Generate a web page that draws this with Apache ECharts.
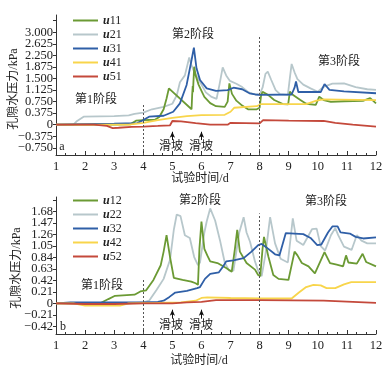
<!DOCTYPE html>
<html><head><meta charset="utf-8">
<script src="https://cdn.jsdelivr.net/npm/echarts@6/dist/echarts.min.js"></script>
<style>html,body{margin:0;padding:0;background:#fff}#c{width:392px;height:371px}</style>
</head><body><div id="c"></div>
<script>
// ---- data (day, kPa) ----
const u11 = [[1,0],[2,0],[3,0],[3.55,0.01],[3.75,0.13],[4,0.15],[4.4,0.16],[4.55,0.25],[4.7,0.5],[4.8,0.85],[4.88,1.18],[5.66,0.5],[5.68,0.95],[5.7,1.25],[5.71,1.05],[5.72,1.3],[5.75,1.88],[5.8,1.6],[5.9,1.3],[6.0,1.1],[6.1,0.9],[6.3,0.7],[6.5,0.6],[6.8,0.58],[6.9,0.75],[6.96,1.34],[7.05,1.0],[7.2,0.78],[7.4,0.62],[7.6,0.5],[7.9,0.5],[8.0,0.55],[8.05,0.95],[8.1,1.07],[8.3,0.96],[8.5,0.8],[8.8,0.67],[8.98,0.66],[9.04,1.07],[9.15,0.96],[9.4,0.8],[9.6,0.68],[9.93,0.64],[10.05,0.91],[10.2,0.8],[10.45,0.74],[10.9,0.76],[11.55,0.77],[11.8,0.86],[12,0.69]];
const u21 = [[1,0],[1.6,0],[1.7,0.1],[1.95,0.26],[2.5,0.27],[3.0,0.28],[3.5,0.3],[3.7,0.35],[4.0,0.39],[4.3,0.5],[4.7,0.58],[5.0,0.68],[5.15,0.95],[5.26,1.38],[5.43,1.6],[5.58,2.18],[5.65,1.95],[5.72,1.78],[5.85,1.55],[6.0,1.3],[6.15,1.05],[6.35,0.9],[6.52,0.84],[6.62,1.3],[6.73,1.86],[6.85,1.6],[6.98,1.42],[7.2,1.33],[7.4,1.22],[7.6,1.06],[7.8,0.99],[8.0,0.98],[8.1,1.2],[8.2,1.65],[8.28,1.72],[8.4,1.45],[8.55,1.12],[8.7,0.99],[8.97,0.97],[9.05,1.6],[9.1,1.97],[9.2,1.7],[9.3,1.48],[9.5,1.3],[9.75,1.18],[10.0,1.07],[10.2,1.23],[10.5,1.33],[10.9,1.34],[11.3,1.22],[11.7,1.15],[12,1.13]];
const u31 = [[1,0],[1.8,0.02],[3.0,0.03],[3.8,0.05],[4.0,0.15],[4.2,0.26],[4.7,0.29],[5.03,0.42],[5.26,0.69],[5.49,1.29],[5.66,2.1],[5.74,2.5],[5.83,1.83],[5.95,1.45],[6.18,1.18],[6.5,1.1],[6.9,1.12],[7.1,1.2],[7.4,1.15],[7.65,1.02],[7.85,0.98],[8.0,0.97],[9.1,0.98],[9.2,1.2],[9.25,1.4],[9.33,1.06],[10.1,1.06],[10.23,1.32],[10.4,1.13],[10.9,1.08],[12,1.02]];
const u41 = [[1,0],[3.5,0.0],[4.0,0.06],[4.5,0.15],[5.0,0.22],[5.5,0.28],[6.0,0.31],[6.8,0.32],[7.0,0.42],[7.13,0.55],[7.9,0.6],[8.05,0.67],[9.6,0.67],[9.95,0.78],[10.2,0.82],[12,0.8]];
const u51 = [[1,0],[2.3,0],[2.75,-0.04],[2.95,-0.11],[3.15,-0.1],[3.6,-0.07],[4.0,-0.06],[4.5,-0.04],[4.92,-0.02],[5.0,0.12],[5.3,0.11],[5.8,0.05],[6.3,0.0],[6.9,0.0],[7.0,0.06],[7.5,0.05],[8.0,0.04],[8.12,0.15],[9.0,0.13],[10.2,0.12],[10.6,0.06],[11.2,0.0],[12,-0.06]];

const u12 = [[1,0],[2.5,0],[2.8,0.08],[3.03,0.14],[3.7,0.16],[3.9,0.22],[4.1,0.24],[4.35,0.43],[4.6,0.7],[4.7,0.95],[4.8,1.25],[4.92,0.85],[5.05,0.47],[5.35,0.43],[5.65,0.4],[5.8,0.37],[5.88,0.34],[5.93,1.0],[6.0,1.5],[6.1,1.0],[6.2,0.88],[6.3,0.77],[6.55,0.74],[6.85,0.65],[7.04,0.58],[7.15,1.0],[7.23,1.35],[7.32,0.95],[7.55,0.74],[7.84,0.62],[7.95,0.52],[8.02,0.5],[8.1,1.0],[8.15,1.22],[8.3,0.86],[8.47,0.52],[8.65,0.45],[8.99,0.43],[9.2,0.95],[9.3,0.88],[9.45,0.74],[9.68,0.68],[9.9,0.55],[10.23,0.94],[10.42,0.74],[10.65,0.71],[10.87,0.68],[10.97,0.88],[11.05,0.75],[11.34,0.73],[11.54,0.91],[11.66,0.76],[12,0.68]];
const u22 = [[1,0],[3.5,0],[4.0,0.02],[4.2,0.05],[4.46,0.25],[4.7,0.45],[4.92,0.8],[5.05,1.35],[5.15,1.63],[5.28,1.6],[5.43,1.25],[5.6,1.2],[5.75,0.85],[5.88,0.7],[5.95,0.75],[6.1,1.3],[6.18,1.5],[6.3,1.74],[6.47,1.52],[6.64,1.15],[6.8,0.75],[6.95,0.6],[7.1,0.6],[7.3,1.3],[7.45,1.58],[7.55,1.3],[7.67,1.13],[7.84,0.77],[7.95,0.6],[8.07,0.5],[8.2,0.9],[8.36,1.58],[8.53,1.1],[8.72,0.82],[8.97,0.75],[9.14,1.56],[9.27,1.15],[9.5,1.07],[9.8,1.36],[9.96,1.37],[10.1,1.05],[10.25,0.97],[10.45,1.25],[10.6,1.38],[10.7,1.25],[10.9,1.04],[11.16,0.98],[11.34,1.25],[11.5,1.15],[11.7,1.1],[12,1.1]];
const u32 = [[1,0],[1.5,0.02],[4.0,0.02],[4.5,0.03],[4.7,0.05],[4.9,0.12],[5.1,0.2],[5.5,0.23],[5.85,0.28],[5.95,0.3],[6.12,0.45],[6.3,0.54],[6.6,0.57],[6.75,0.68],[6.85,0.77],[7.1,0.79],[7.45,0.83],[7.72,0.95],[7.95,1.07],[8.07,1.09],[8.3,1.0],[8.53,0.9],[8.68,0.88],[8.9,1.29],[9.5,1.27],[9.75,1.2],[9.98,1.07],[10.12,1.08],[10.35,1.3],[10.5,1.41],[10.68,1.41],[10.78,1.3],[11.1,1.28],[11.3,1.22],[11.56,1.19],[12,1.21]];
const u42 = [[1,0],[1.6,0],[2.0,-0.04],[3.2,-0.04],[3.5,0.0],[4.5,0.01],[5.3,0.02],[5.8,0.05],[6.0,0.1],[6.2,0.11],[7.0,0.1],[8.0,0.09],[9.1,0.09],[9.35,0.2],[9.6,0.3],[9.85,0.34],[10.1,0.33],[10.3,0.28],[10.6,0.28],[10.9,0.35],[11.15,0.39],[12,0.39]];
const u52 = [[1,0],[2.0,-0.01],[3.0,-0.01],[4.0,0.0],[5.0,0.0],[5.5,0.02],[6.0,0.03],[6.5,0.06],[8.0,0.06],[10.2,0.05],[12,0.01]];

const namesA = ['u11','u21','u31','u41','u51'];
const namesB = ['u12','u22','u32','u42','u52'];
const topLabels = [-0.75,-0.375,0,0.375,0.75,1.125,1.5,1.875,2.25,2.625,3.0];
const topTicks = [-0.75,-0.375,0,0.375,0.75,1.125,1.5,1.875,2.25,2.625,3.0,3.375];
const botLabels = [-0.42,-0.21,0,0.21,0.42,0.63,0.84,1.05,1.26,1.47,1.68];
const botTicks = [-0.42,-0.21,0,0.21,0.42,0.63,0.84,1.05,1.26,1.47,1.68,1.89];
const stageDividers = [4, 8];
const slideDays = [5, 6];
const topRange = [-0.984, 3.56];
const botRange = [-0.56, 1.95];

const colors = ['#6b9a34','#b7c7cb','#2f5fa7','#f8d54b','#c4493b'];
const FONT = '"Liberation Serif","Noto Sans CJK SC",serif';

function fmt(dec, labels){
  return v => {
    if (!labels.some(l => Math.abs(l - v) < 1e-6)) return '';
    return Math.abs(v) < 1e-9 ? '0' : (v < 0 ? '\u2212' + (-v).toFixed(dec) : v.toFixed(dec));
  };
}

function xAxisCfg(gi){
  return {gridIndex:gi,type:'value',min:1,max:12,interval:1,
    axisLine:{show:true,onZero:false,lineStyle:{color:'#333',width:1}},
    axisTick:{show:true,inside:true,length:4,lineStyle:{color:'#333'}},
    minorTick:{show:true,splitNumber:3,length:2,lineStyle:{color:'#333'}},
    axisLabel:{fontFamily:FONT,fontSize:12.5,color:'#222',margin:5,hideOverlap:false},
    splitLine:{show:false}};
}
function yAxisCfg(gi,range,ticks,labels,dec){
  // blank labels at both ends so that min/max overlap handling only drops blanks
  const lv = [range[0]].concat(labels, [range[1]]);
  return {gridIndex:gi,type:'value',min:range[0],max:range[1],
    axisLine:{show:true,onZero:false,lineStyle:{color:'#333',width:1}},
    axisTick:{show:true,inside:false,length:3,customValues:ticks,lineStyle:{color:'#333'}},
    axisLabel:{customValues:lv,formatter:fmt(dec,labels),fontFamily:FONT,fontSize:12.5,lineHeight:10,color:'#222',margin:3,hideOverlap:false,showMinLabel:false,showMaxLabel:false},
    splitLine:{show:false}};
}

const dataA = [u11,u21,u31,u41,u51];
const dataB = [u12,u22,u32,u42,u52];
const series = [];
function addSeries(names,datas,gi,ymin,dividerTops,arrowFrom,arrowTo){
  names.forEach((n,i)=>{
    series.push({name:n,type:'line',xAxisIndex:gi,yAxisIndex:gi,data:datas[i],
      symbol:'none',showSymbol:false,lineStyle:{color:colors[i],width:1.8},itemStyle:{color:colors[i]},
      z:i===1?2:3});
  });
  const dash = {type:[2,2],color:'#555',width:1};
  const solid = {type:'solid',color:'#111',width:1};
  series.push({type:'line',xAxisIndex:gi,yAxisIndex:gi,data:[],silent:true,
    markLine:{silent:true,animation:false,label:{show:false},
      data:[
        [{coord:[stageDividers[0],ymin],symbol:'none'},{coord:[stageDividers[0],dividerTops[0]],symbol:'none',lineStyle:dash}],
        [{coord:[stageDividers[1],ymin],symbol:'none'},{coord:[stageDividers[1],dividerTops[1]],symbol:'none',lineStyle:dash}],
        [{coord:[slideDays[0],arrowFrom],symbol:'none'},{coord:[slideDays[0],arrowTo],symbol:'arrow',symbolSize:[4,6],lineStyle:solid}],
        [{coord:[slideDays[1],arrowFrom],symbol:'none'},{coord:[slideDays[1],arrowTo],symbol:'arrow',symbolSize:[4,6],lineStyle:solid}]
      ]}});
}
addSeries(namesA,dataA,0,topRange[0],[0.70,2.88],-0.5,-0.23);
addSeries(namesB,dataB,1,botRange[0],[0.43,1.65],-0.28,-0.115);

function legendCfg(names,top){
  return {data:names,orient:'vertical',left:68,top:top,icon:'rect',itemWidth:25,itemHeight:2,itemGap:1,
    textStyle:{fontFamily:FONT,fontSize:12,color:'#222',lineHeight:13,
      rich:{i:{fontStyle:'italic',fontWeight:'bold',fontFamily:FONT,fontSize:12,lineHeight:13,color:'#222'},
            n:{fontFamily:FONT,fontSize:12,lineHeight:13,color:'#222'}}},
    formatter:n=>'{i|u}{n|'+n.slice(1)+'}'};
}

function txt(t,x,y,size,rot){
  const o={type:'text',x:x,y:y,silent:true,z:100,
    style:{text:t,fill:'#222',font:size+'px '+FONT,align:'center',verticalAlign:'middle',textAlign:'center',textVerticalAlign:'middle'}};
  if(rot) o.rotation=rot;
  return o;
}

const chart = echarts.init(document.getElementById('c'),null,{renderer:'canvas'});
chart.setOption({
  animation:false,
  backgroundColor:'#fff',
  grid:[{left:56,width:320,top:15,height:140},{left:56,width:320,top:197,height:137}],
  xAxis:[xAxisCfg(0),xAxisCfg(1)],
  yAxis:[yAxisCfg(0,topRange,topTicks,topLabels,3),yAxisCfg(1,botRange,botTicks,botLabels,2)],
  legend:[legendCfg(namesA,9),legendCfg(namesB,189)],
  series:series,
  graphic:[
    txt('第1阶段',96,100,12), txt('第2阶段',193,35,12), txt('第3阶段',339,62,12),
    txt('第1阶段',102,286,12), txt('第2阶段',200,201,12), txt('第3阶段',326,202,12),
    txt('滑坡',171,147,12), txt('滑坡',201,147,12),
    txt('滑坡',171,326,12), txt('滑坡',201,326,12),
    txt('a',62,147,12), txt('b',63,327,12),
    txt('试验时间/d',200,179,12), txt('试验时间/d',199,361,12),
    txt('孔隙水压力/kPa',14,89,12,Math.PI/2), txt('孔隙水压力/kPa',17,268,12,Math.PI/2)
  ]
});
</script></body></html>
